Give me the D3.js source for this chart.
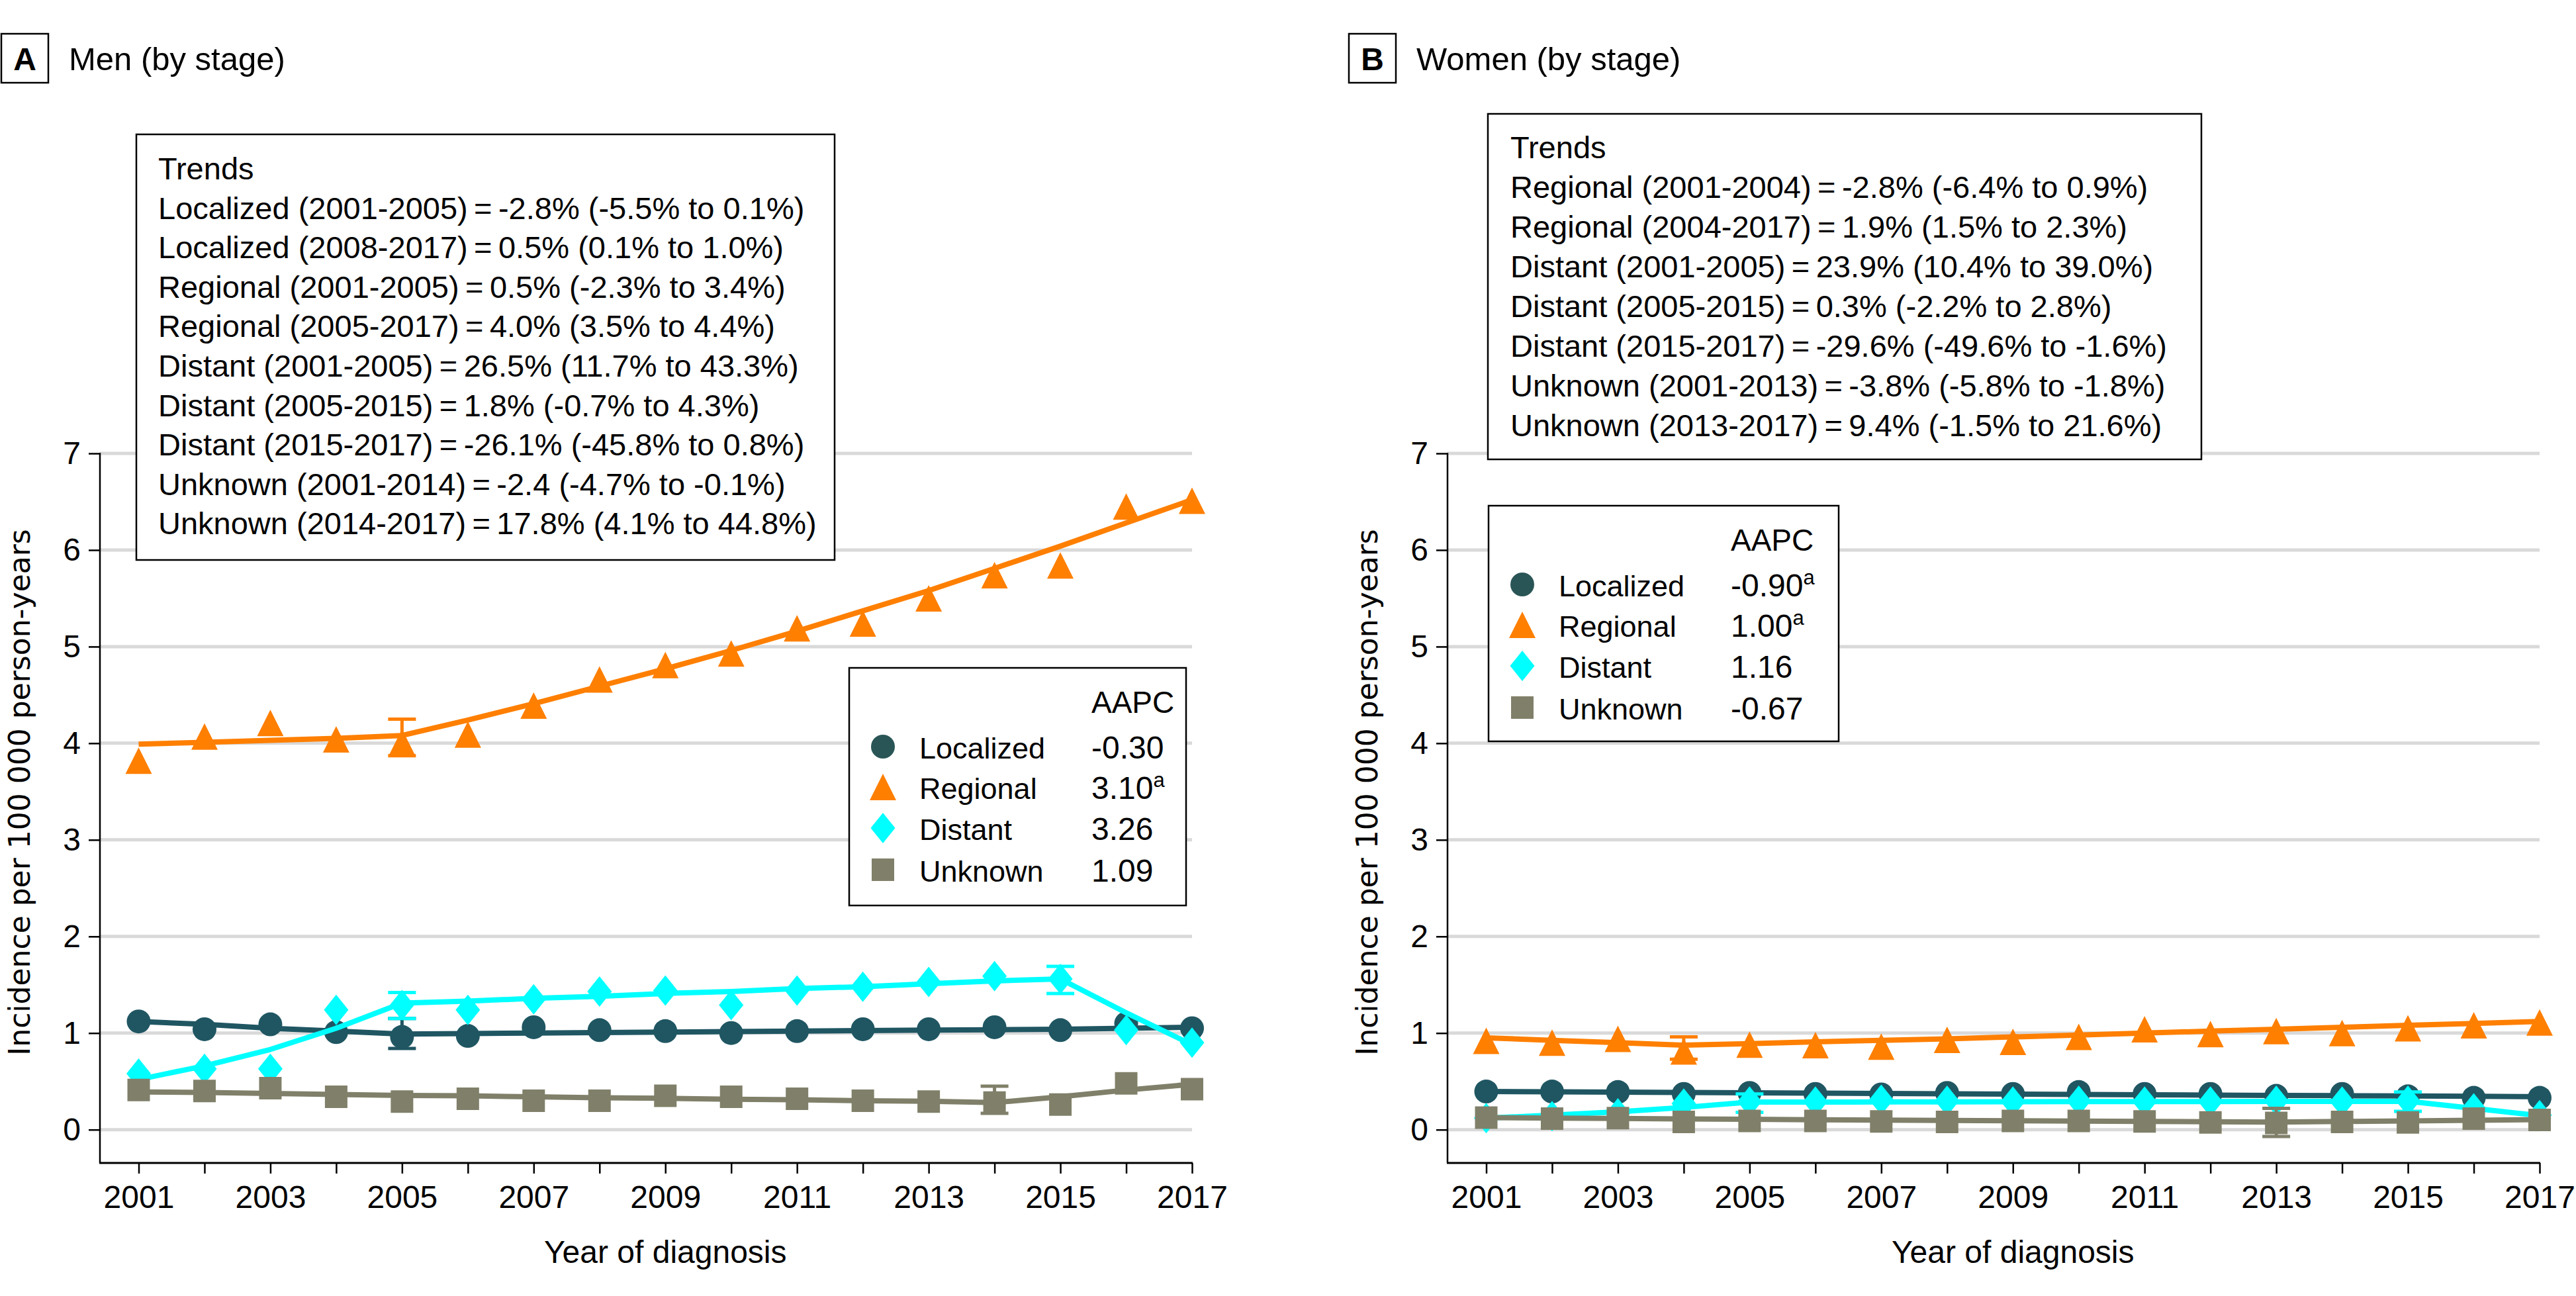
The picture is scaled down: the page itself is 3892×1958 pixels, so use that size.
<!DOCTYPE html>
<html><head><meta charset="utf-8">
<script src="https://cdn.jsdelivr.net/npm/d3@7/dist/d3.min.js"></script>
<style>
body{margin:0;background:#fff}
svg{display:block}
text{font-family:"Liberation Sans",Arial,sans-serif;fill:#000}
</style>
</head><body>
<svg id="c" width="3892" height="1958"></svg>
<script>
// ---------------- data ----------------
const years = [2001,2002,2003,2004,2005,2006,2007,2008,2009,2010,2011,2012,2013,2014,2015,2016,2017];
const yTicks = [0,1,2,3,4,5,6,7];
const xTickLabels = [2001,2003,2005,2007,2009,2011,2013,2015,2017];
const stages = ["Localized","Regional","Distant","Unknown"];

// Men (panel A) observed
const menLocalized = [1.12,1.04,1.09,1.01,0.96,0.97,1.06,1.03,1.02,1.00,1.02,1.04,1.04,1.06,1.03,1.10,1.05];
const menRegional  = [3.82,4.07,4.21,4.04,4.01,4.09,4.39,4.66,4.81,4.93,5.19,5.24,5.50,5.74,5.84,6.45,6.51];
const menDistant   = [0.58,0.63,0.63,1.24,1.29,1.24,1.35,1.43,1.44,1.29,1.44,1.48,1.53,1.59,1.56,1.03,0.90];
const menUnknown   = [0.41,0.40,0.43,0.34,0.29,0.32,0.30,0.30,0.35,0.34,0.32,0.30,0.29,0.28,0.26,0.48,0.42];
// Men fitted (joinpoint) lines
const menLocalizedFit = [1.12,1.09,1.05,1.02,0.99,0.995,1.00,1.005,1.01,1.015,1.02,1.025,1.03,1.035,1.04,1.05,1.06];
const menRegionalFit  = [3.99,4.01,4.03,4.05,4.08,4.24,4.41,4.59,4.77,4.96,5.16,5.37,5.58,5.81,6.04,6.28,6.52];
const menDistantFit   = [0.52,0.66,0.83,1.05,1.31,1.33,1.36,1.38,1.41,1.43,1.46,1.48,1.51,1.54,1.56,1.21,0.88];
const menUnknownFit   = [0.39,0.385,0.375,0.365,0.355,0.35,0.34,0.33,0.325,0.315,0.31,0.30,0.295,0.28,0.34,0.41,0.47];
// Men error bars
const menErrStage = ["Localized","Regional","Distant","Distant","Unknown"];
const menErrYear  = [2005,2005,2005,2015,2014];
const menErrLo    = [0.84,3.87,1.15,1.41,0.17];
const menErrHi    = [1.15,4.25,1.42,1.69,0.45];
const menAAPC     = ["-0.30","3.10","3.26","1.09"];
const menAAPCSig  = [false,true,false,false];
const menTrends = [
  "Trends",
  "Localized (2001-2005)\u2009=\u2009-2.8% (-5.5% to 0.1%)",
  "Localized (2008-2017)\u2009=\u20090.5% (0.1% to 1.0%)",
  "Regional (2001-2005)\u2009=\u20090.5% (-2.3% to 3.4%)",
  "Regional (2005-2017)\u2009=\u20094.0% (3.5% to 4.4%)",
  "Distant (2001-2005)\u2009=\u200926.5% (11.7% to 43.3%)",
  "Distant (2005-2015)\u2009=\u20091.8% (-0.7% to 4.3%)",
  "Distant (2015-2017)\u2009=\u2009-26.1% (-45.8% to 0.8%)",
  "Unknown (2001-2014)\u2009=\u2009-2.4 (-4.7% to -0.1%)",
  "Unknown (2014-2017)\u2009=\u200917.8% (4.1% to 44.8%)"
];

// Women (panel B) observed
const womenLocalized = [0.395,0.395,0.39,0.37,0.38,0.37,0.365,0.38,0.37,0.39,0.37,0.37,0.35,0.37,0.345,0.33,0.33];
const womenRegional  = [0.92,0.90,0.94,0.81,0.88,0.875,0.86,0.93,0.91,0.96,1.04,0.99,1.02,1.00,1.05,1.08,1.11];
const womenDistant   = [0.12,0.14,0.17,0.27,0.29,0.29,0.31,0.30,0.29,0.30,0.29,0.29,0.30,0.29,0.30,0.22,0.15];
const womenUnknown   = [0.125,0.115,0.12,0.08,0.09,0.09,0.085,0.08,0.09,0.09,0.085,0.075,0.07,0.08,0.075,0.115,0.10];
// Women fitted lines
const womenLocalizedFit = [0.395,0.392,0.388,0.385,0.381,0.378,0.374,0.371,0.368,0.364,0.361,0.358,0.355,0.352,0.349,0.345,0.342];
const womenRegionalFit  = [0.95,0.925,0.90,0.875,0.89,0.91,0.925,0.94,0.96,0.98,1.00,1.02,1.04,1.06,1.08,1.10,1.12];
const womenDistantFit   = [0.12,0.15,0.185,0.23,0.285,0.286,0.287,0.288,0.289,0.29,0.29,0.291,0.292,0.293,0.294,0.22,0.145];
const womenUnknownFit   = [0.125,0.12,0.116,0.111,0.107,0.103,0.099,0.095,0.092,0.088,0.085,0.082,0.079,0.085,0.091,0.097,0.104];
// Women error bars
const womenErrStage = ["Regional","Distant","Distant","Unknown"];
const womenErrYear  = [2004,2005,2015,2013];
const womenErrLo    = [0.73,0.18,0.19,-0.07];
const womenErrHi    = [0.96,0.37,0.39,0.22];
const womenAAPC     = ["-0.90","1.00","1.16","-0.67"];
const womenAAPCSig  = [true,true,false,false];
const womenTrends = [
  "Trends",
  "Regional (2001-2004)\u2009=\u2009-2.8% (-6.4% to 0.9%)",
  "Regional (2004-2017)\u2009=\u20091.9% (1.5% to 2.3%)",
  "Distant (2001-2005)\u2009=\u200923.9% (10.4% to 39.0%)",
  "Distant (2005-2015)\u2009=\u20090.3% (-2.2% to 2.8%)",
  "Distant (2015-2017)\u2009=\u2009-29.6% (-49.6% to -1.6%)",
  "Unknown (2001-2013)\u2009=\u2009-3.8% (-5.8% to -1.8%)",
  "Unknown (2013-2017)\u2009=\u20099.4% (-1.5% to 21.6%)"
];

// ---------------- styling ----------------
const colors = {Localized:"#1f5662", Regional:"#ff7f00", Distant:"#00ffff", Unknown:"#80806a"};
const legendColors = {Localized:"#2a5556", Regional:"#ff7f00", Distant:"#00ffff", Unknown:"#80806a"};
const symTri = {draw(c){ c.moveTo(0,-20); c.lineTo(20,20); c.lineTo(-20,20); c.closePath(); }};
const symDia = {draw(c){ c.moveTo(0,-23); c.lineTo(18.5,0); c.lineTo(0,23); c.lineTo(-18.5,0); c.closePath(); }};
const symSq  = {draw(c){ c.rect(-17,-17,34,34); }};
const symbols = {
  Localized: d3.symbol(d3.symbolCircle, Math.PI*18*18)(),
  Regional: d3.symbol(symTri)(),
  Distant: d3.symbol(symDia)(),
  Unknown: d3.symbol(symSq)()
};

const svg = d3.select("#c");

function panel(p){
  const g = svg.append("g").attr("transform", `translate(${p.dx},0)`);
  const x = d3.scaleLinear().domain([2001,2017]).range([209.5,1801]);
  const y = d3.scaleLinear().domain([0,7]).range([1706.7,685]);
  const axisY = 1757;

  // gridlines
  g.append("g").selectAll("line").data(yTicks).join("line")
    .attr("x1",151).attr("x2",x(2017)).attr("y1",d=>y(d)).attr("y2",d=>y(d))
    .attr("stroke","#d9d9d9").attr("stroke-width",5);

  // y axis
  const ya = g.append("g").attr("transform","translate(151,0)")
    .call(d3.axisLeft(y).tickValues(yTicks).tickSize(17).tickPadding(12).tickFormat(d3.format("d")));
  ya.select(".domain").remove();
  ya.selectAll(".tick line").attr("stroke","#000").attr("stroke-width",2.5);
  ya.selectAll(".tick text").attr("font-size",48).attr("font-family",'"Liberation Sans",Arial,sans-serif').attr("fill","#000");
  g.append("line").attr("x1",151).attr("x2",151).attr("y1",y(7)-1).attr("y2",axisY)
    .attr("stroke","#000").attr("stroke-width",2.5);

  // x axis
  const xa = g.append("g").attr("transform",`translate(0,${axisY})`)
    .call(d3.axisBottom(x).tickValues(years).tickSize(16).tickPadding(18)
      .tickFormat(d => xTickLabels.includes(d) ? String(d) : ""));
  xa.select(".domain").remove();
  xa.selectAll(".tick line").attr("stroke","#000").attr("stroke-width",2.5);
  xa.selectAll(".tick text").attr("font-size",48).attr("font-family",'"Liberation Sans",Arial,sans-serif').attr("fill","#000");
  g.append("line").attr("x1",150).attr("x2",x(2017)+1).attr("y1",axisY).attr("y2",axisY)
    .attr("stroke","#000").attr("stroke-width",3);

  // axis titles
  g.append("text").attr("transform","translate(45,1197) rotate(-90)")
    .attr("text-anchor","middle").style("font-family",'"DejaVu Sans",Verdana,sans-serif')
    .attr("font-size",44).text("Incidence per 100 000 person-years");
  g.append("text").attr("x",(x(2001)+x(2017))/2).attr("y",1908).attr("text-anchor","middle")
    .attr("font-size",48).text("Year of diagnosis");

  // series
  const line = d3.line().x((d,i)=>x(years[i])).y(d=>y(d));
  stages.forEach((s,k)=>{
    const sg = g.append("g");
    sg.append("path").datum(p.fit[k]).attr("d",line).attr("fill","none")
      .attr("stroke",colors[s]).attr("stroke-width",8).attr("stroke-linejoin","round");
    sg.selectAll("path.m").data(p.obs[k]).join("path").attr("class","m")
      .attr("transform",(d,i)=>`translate(${x(years[i])},${y(d)})`)
      .attr("d",symbols[s]).attr("fill",colors[s]);
    const eb = p.errStage.map((st,i)=>({st,yr:p.errYear[i],lo:p.errLo[i],hi:p.errHi[i]})).filter(e=>e.st===s);
    eb.forEach(e=>{
      const xx = x(e.yr);
      sg.append("line").attr("x1",xx).attr("x2",xx).attr("y1",y(e.lo)).attr("y2",y(e.hi)).attr("stroke",colors[s]).attr("stroke-width",5);
      [e.lo,e.hi].forEach(v=>sg.append("line").attr("x1",xx-21).attr("x2",xx+21).attr("y1",y(v)).attr("y2",y(v)).attr("stroke",colors[s]).attr("stroke-width",5));
    });
  });

  // trends box
  const tb = g.append("g").attr("transform",`translate(${p.tb.x},${p.tb.y})`);
  tb.append("rect").attr("width",p.tb.w).attr("height",p.tb.h).attr("fill","#fff").attr("stroke","#000").attr("stroke-width",2.5);
  tb.selectAll("text").data(p.trends).join("text")
    .attr("x",p.tb.tx).attr("y",(d,i)=>p.tb.ty + i*p.tb.dy)
    .attr("font-size",47).text(d=>d);

  // legend box
  const lg = g.append("g").attr("transform",`translate(${p.lg.x},${p.lg.y})`);
  lg.append("rect").attr("width",p.lg.w).attr("height",p.lg.h).attr("fill","#fff").attr("stroke","#000").attr("stroke-width",2.5);
  lg.append("text").attr("x",366).attr("y",68).attr("font-size",46).text("AAPC");
  const rowY = [137,198,260,323];
  stages.forEach((s,k)=>{
    lg.append("path").attr("transform",`translate(51,${rowY[k]-18})`).attr("d",symbols[s]).attr("fill",legendColors[s]);
    lg.append("text").attr("x",106).attr("y",rowY[k]).attr("font-size",45).text(s);
    const t = lg.append("text").attr("x",366).attr("y",rowY[k]).attr("font-size",48).text(p.aapc[k]);
    if(p.sig[k]) t.append("tspan").attr("dy",-18).attr("font-size",31).text("a");
  });

  // panel label
  g.append("rect").attr("x",2).attr("y",51).attr("width",71).attr("height",74)
    .attr("fill","#fff").attr("stroke","#000").attr("stroke-width",2.5);
  g.append("text").attr("x",37.5).attr("y",106).attr("text-anchor","middle")
    .attr("font-size",48).attr("font-weight","bold").text(p.letter);
  g.append("text").attr("x",104).attr("y",106).attr("font-size",49).text(p.title);
}

panel({
  dx:0, letter:"A", title:"Men (by stage)",
  obs:[menLocalized,menRegional,menDistant,menUnknown],
  fit:[menLocalizedFit,menRegionalFit,menDistantFit,menUnknownFit],
  errStage:menErrStage, errYear:menErrYear, errLo:menErrLo, errHi:menErrHi,
  aapc:menAAPC, sig:menAAPCSig, trends:menTrends,
  tb:{x:206,y:203,w:1055,h:643,tx:33,ty:68,dy:59.6},
  lg:{x:1283,y:1009,w:509,h:359}
});
panel({
  dx:2036, letter:"B", title:"Women (by stage)",
  obs:[womenLocalized,womenRegional,womenDistant,womenUnknown],
  fit:[womenLocalizedFit,womenRegionalFit,womenDistantFit,womenUnknownFit],
  errStage:womenErrStage, errYear:womenErrYear, errLo:womenErrLo, errHi:womenErrHi,
  aapc:womenAAPC, sig:womenAAPCSig, trends:womenTrends,
  tb:{x:212,y:172,w:1078,h:522,tx:34,ty:66.5,dy:60},
  lg:{x:213,y:764,w:529,h:356}
});
</script>
</body></html>
